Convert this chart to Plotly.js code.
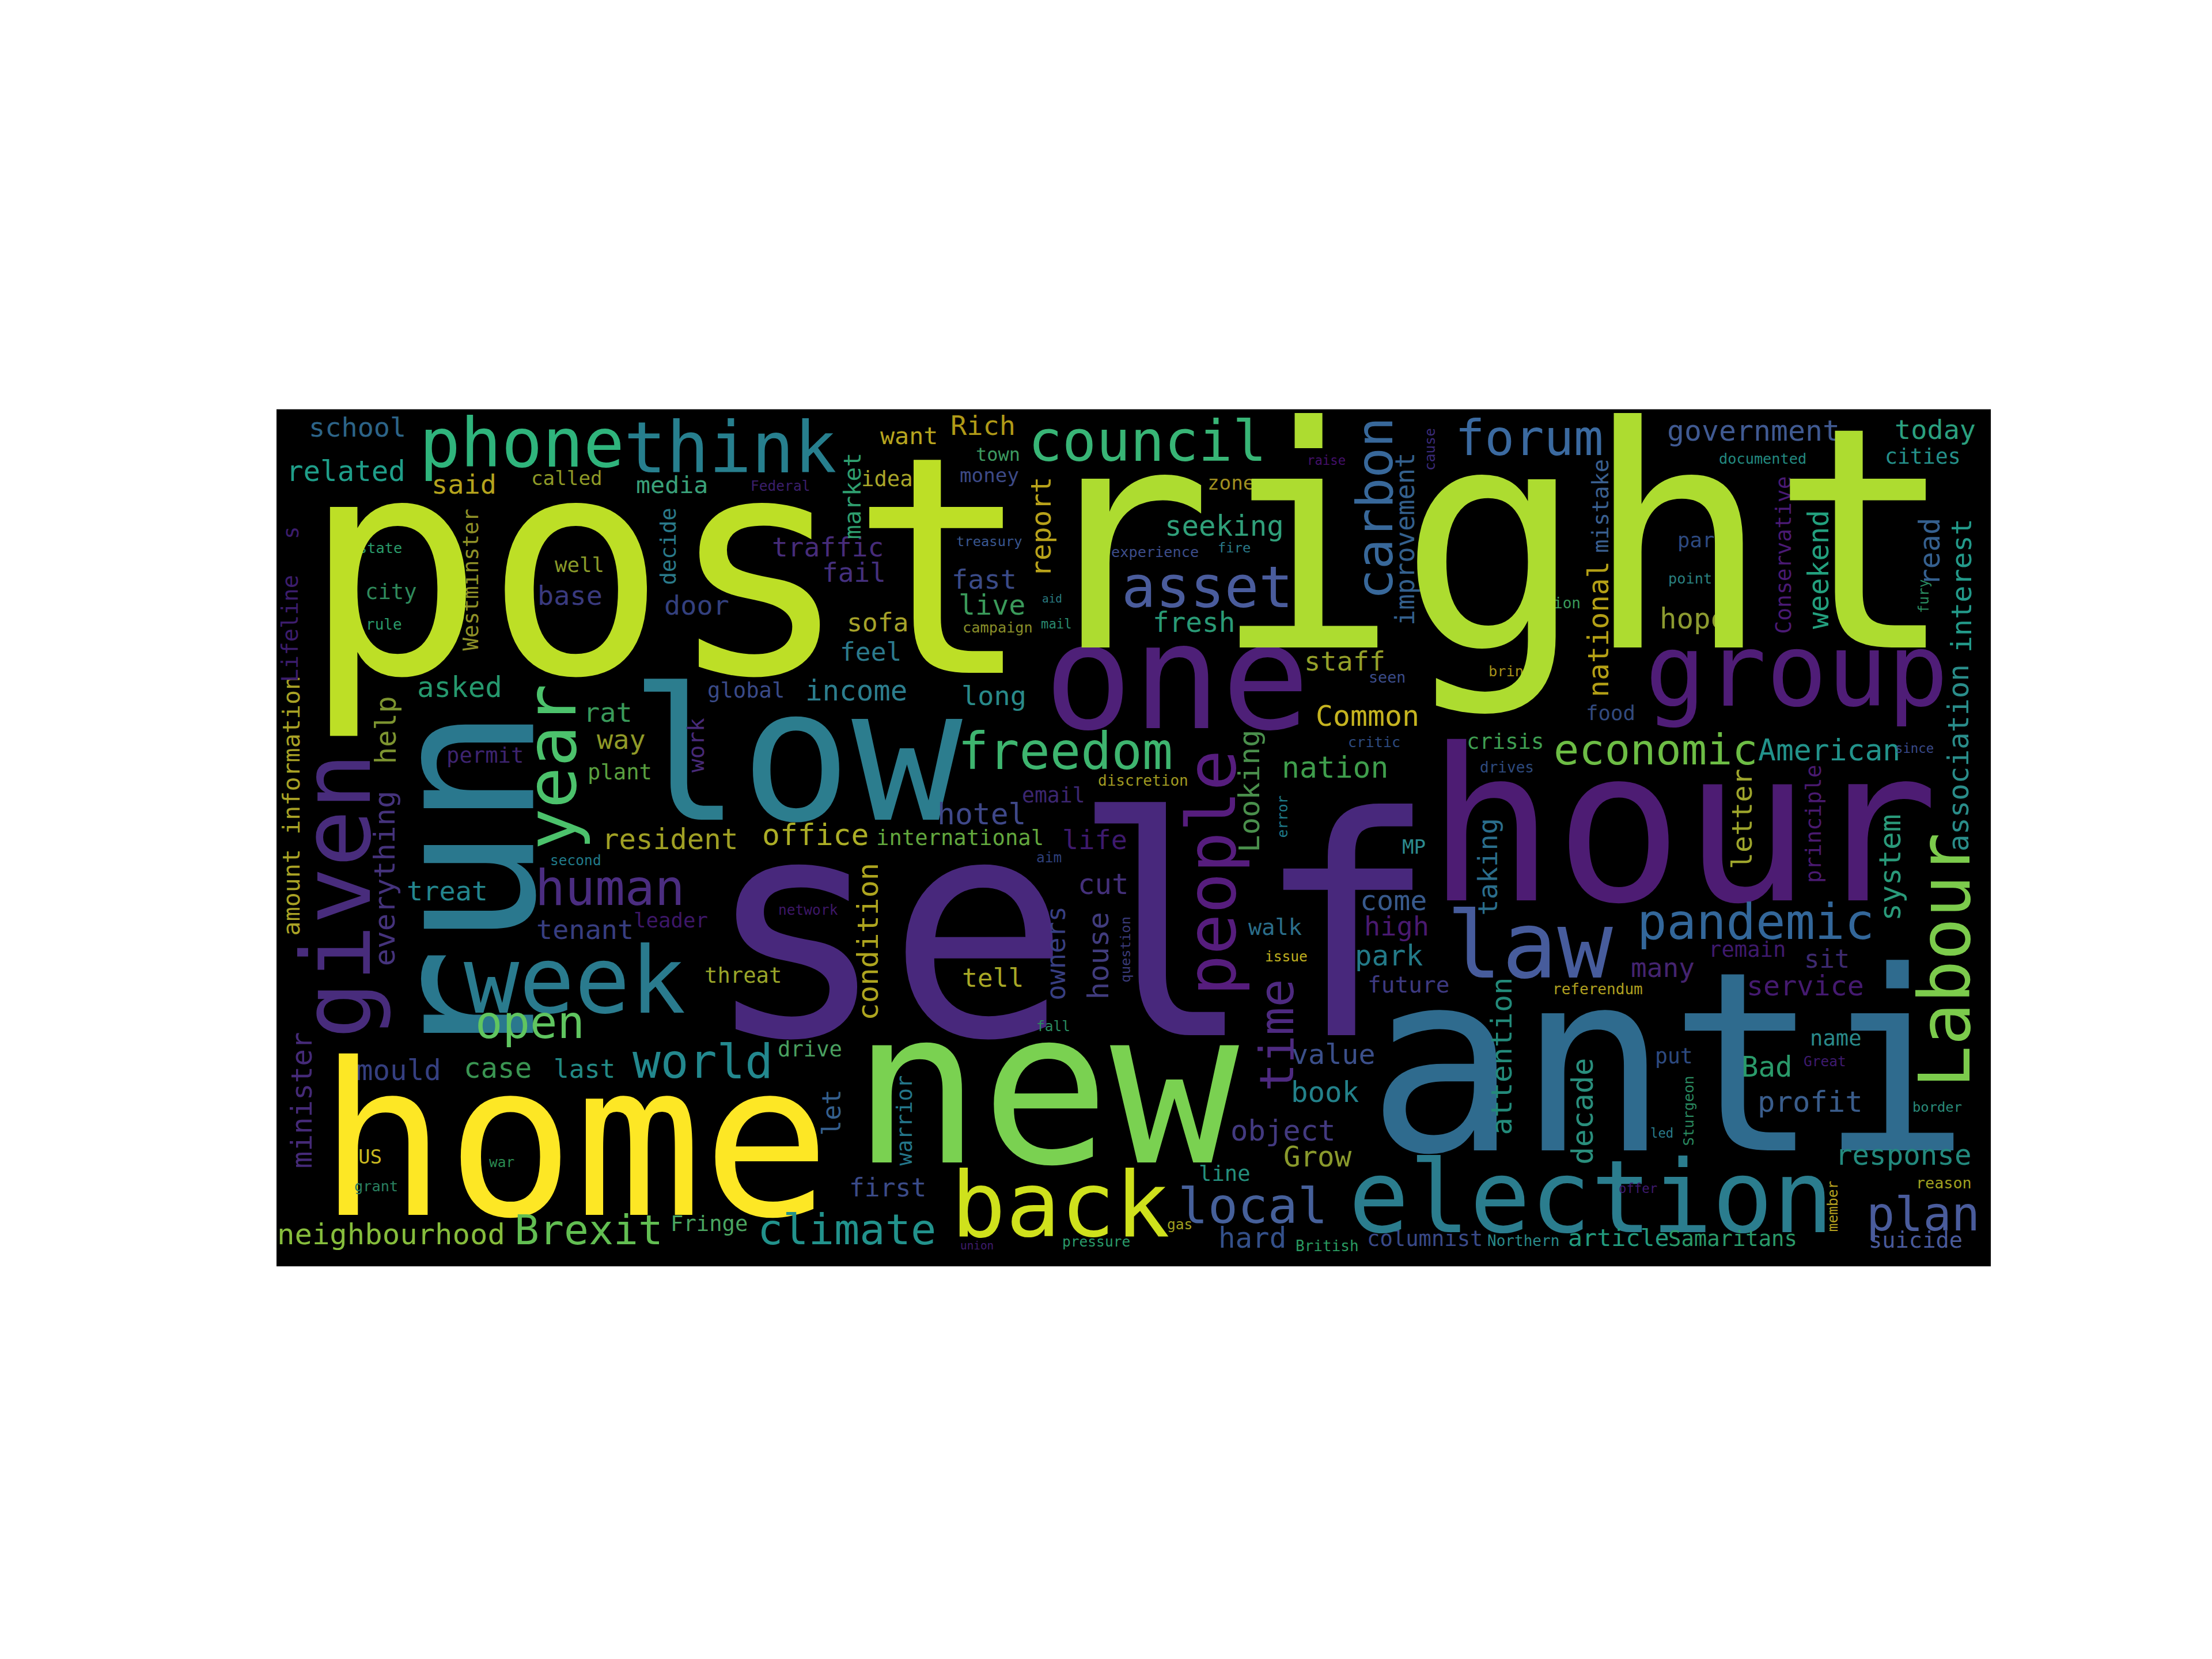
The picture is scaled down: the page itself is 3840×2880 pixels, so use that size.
<!DOCTYPE html>
<html>
<head>
<meta charset="utf-8">
<script src="https://cdn.plot.ly/plotly-3.0.1.min.js"></script>
<style>
  html, body { margin: 0; padding: 0; background: #fff; }
  #cloud { width: 3840px; height: 2880px; }
</style>
</head>
<body>
<div id="cloud"></div>
<script>
// word cloud, 400 x 200 canvas units; x/y = word centre along the text and its baseline
// (for vertical words x is the baseline, y the centre), size = font em in canvas units
const words = [
  'school','phone','think','related','said','called','media','Federal','want','Rich',
  'town','idea','money','council','raise','zone','carbon','improvement','report','seeking',
  'treasury','experience','fire','traffic','fail','fast','live','asset','fresh','aid',
  'mail','campaign','sofa','feel','staff','seen','long','forum','government','documented',
  'today','cities','mistake','national','option','bring','part','point','hope','Conservative',
  'weekend','read','fury','interest','group','association','hour','anti','self','run',
  'low','one','given','year','help','permit','rat','way','plant','work',
  'amount information','Lifeline','everything','minister','treat','second','human','leader','tenant','network',
  'week','threat','open','world','drive','mould','case','last','home','US',
  'war','grant','let','neighbourhood','Brexit','Fringe','climate','first','warrior','new',
  'back','gas','pressure','union','line','local','hard','British','columnist','time',
  'value','book','object','Grow','people','Looking','freedom','Common','critic','nation',
  'discretion','email','hotel','international','office','resident','life','condition','aim','cut',
  'owners','house','question','tell','walk','issue','fall','come','high','park',
  'future','MP','error','taking','attention','crisis','food','drives','economic','American',
  'since','letter','principle','system','Labour','pandemic','law','remain','sit','many',
  'service','referendum','put','decade','profit','Bad','name','Great','Sturgeon','led',
  'border','response','reason','election','offer','member','plan','Samaritans','article','Northern',
  'suicide','state','city','rule','well','base','Westminster','decide','door','asked',
  'global','income','market','cause','post','right','s'
];
const wordX = [
  18.9,57.2,105.9,16.2,43.7,67.8,92.3,117.5,147.6,164.8,
  168.3,142.5,166.3,203.2,245.0,222.7,260.4,265.4,180.7,221.2,
  166.3,205.0,223.4,128.6,134.8,165.1,166.9,217.2,214.1,181.0,
  182.0,168.3,140.3,138.6,249.3,259.1,167.4,292.4,344.6,346.8,
  387.0,384.2,310.7,310.7,298.0,287.9,332.7,329.9,330.6,353.4,
  362.0,388.1,385.5,395.4,354.7,394.8,328.2,324.9,185.3,59.9,
  121.4,210.1,21.8,69.8,27.8,48.6,77.4,80.4,80.1,99.6,
  5.3,5.0,27.5,8.3,39.9,69.8,77.8,92.0,72.0,124.1,
  69.5,108.9,59.2,99.4,124.4,28.5,51.6,71.8,69.5,21.8,
  52.6,23.3,131.7,26.8,72.8,100.9,133.0,142.6,148.2,179.7,
  182.9,210.8,191.3,163.5,221.2,227.8,227.7,245.2,268.0,237.3,
  246.7,244.6,234.9,242.9,223.7,229.3,184.1,254.6,256.1,247.0,
  202.2,181.3,164.6,159.5,125.7,91.8,190.9,140.3,180.3,192.9,
  184.0,194.2,199.2,167.1,233.0,235.6,181.3,260.6,261.4,259.6,
  264.1,265.4,235.9,284.9,288.2,286.7,311.3,287.1,321.8,362.3,
  382.2,344.1,360.3,378.9,395.1,345.1,292.5,343.1,361.7,323.5,
  356.7,308.3,326.1,307.1,357.8,347.8,363.8,361.3,330.6,323.3,
  387.5,379.6,389.1,306.7,317.7,364.3,384.2,339.8,313.2,290.9,
  382.4,24.2,26.8,25.0,70.7,68.5,47.0,93.0,98.1,42.7,
  109.5,135.3,136.3,270.3,91.2,283.5,5.0
];
const wordY = [
  6.4,13.4,14.7,16.7,19.7,17.7,19.6,19.0,8.1,6.0,
  12.0,17.9,17.0,12.0,12.9,18.7,23.2,30.2,27.4,29.5,
  31.9,34.5,33.5,34.4,40.3,41.8,47.9,46.1,51.9,45.1,
  51.1,52.1,51.9,58.7,60.9,63.7,69.0,10.7,7.3,12.7,
  6.9,12.7,22.6,51.4,46.5,62.3,32.2,40.7,51.2,34.0,
  37.4,33.2,43.6,41.2,69.2,81.4,114.6,172.9,146.1,111.5,
  95.8,74.3,113.6,83.5,74.9,82.4,72.9,79.2,86.4,78.4,
  92.6,51.2,109.5,161.3,114.6,106.4,115.7,120.9,123.6,117.9,
  140.9,133.8,146.7,156.0,151.0,156.6,156.0,156.0,187.9,176.0,
  176.8,182.5,164.1,194.9,194.9,191.7,194.9,183.7,165.9,175.8,
  193.0,191.4,195.4,196.1,180.1,189.9,195.7,196.4,195.3,146.1,
  152.7,161.7,170.7,176.7,108.2,89.1,84.0,73.9,78.9,86.0,
  87.8,91.8,96.8,101.7,101.7,102.6,102.6,124.2,105.7,113.1,
  126.9,127.5,126.0,134.8,122.7,128.9,145.1,116.9,122.7,129.8,
  136.1,103.7,95.1,106.8,151.0,79.2,72.5,84.8,82.9,81.9,
  80.2,95.6,96.8,107.0,128.7,123.6,132.6,127.7,130.3,132.5,
  136.8,136.5,152.7,163.9,163.9,155.7,148.5,153.3,163.7,169.9,
  163.9,176.3,181.8,192.0,182.8,185.9,191.6,195.3,195.3,195.3,
  195.7,33.6,44.3,51.4,38.0,45.6,39.8,32.0,47.9,67.1,
  67.3,68.0,20.3,9.4,61.5,55.5,28.8
];
const wordSize = [
  6.3,15.9,16.5,6.6,6.3,4.6,5.6,3.3,5.6,6.3,
  4.3,5.0,4.6,13.2,3.0,4.6,11.8,6.1,6.5,6.6,
  3.2,3.4,3.2,6.2,6.2,6.3,6.5,13.3,6.4,2.6,
  3.0,3.4,6.0,6.0,6.3,3.6,6.3,11.5,6.7,3.4,
  6.3,4.9,5.2,6.6,3.5,3.4,4.8,3.4,6.6,5.1,
  6.6,6.6,3.3,6.5,23.5,6.6,49.6,58.5,71.1,46.7,
  43.0,34.4,22.2,16.1,6.6,5.0,6.3,6.3,5.0,5.3,
  5.6,5.2,6.8,6.6,6.3,3.3,11.6,4.8,6.3,3.3,
  21.5,5.0,10.6,10.9,5.0,6.6,6.6,6.0,49.6,4.6,
  3.3,3.4,6.0,6.8,9.6,5.0,9.9,6.0,5.0,50.0,
  21.2,3.3,3.3,2.6,5.0,11.6,6.6,3.5,5.0,10.9,
  6.5,6.6,6.8,6.6,15.9,6.8,11.9,6.7,3.4,6.9,
  3.5,4.9,6.9,5.0,6.9,6.6,6.3,6.8,3.3,6.6,
  6.1,6.8,3.2,6.0,5.2,3.3,3.3,6.5,6.3,6.6,
  5.3,4.6,3.3,6.3,6.8,5.0,4.8,3.5,9.9,6.9,
  3.0,6.5,5.1,6.9,16.5,11.5,21.5,5.0,5.9,6.2,
  6.5,3.5,4.9,6.9,6.8,6.6,5.0,3.3,3.4,3.0,
  3.2,6.6,3.6,23.5,3.0,3.3,11.0,5.0,5.6,3.5,
  5.2,3.4,5.0,3.5,4.8,6.3,5.0,5.0,6.3,6.6,
  5.0,6.6,5.6,3.3,70.8,72.0,5.0
];
// 1 = rotated, reads bottom to top
const wordVertical = [
  0,0,0,0,0,0,0,0,0,0,
  0,0,0,0,0,0,1,1,1,0,
  0,0,0,0,0,0,0,0,0,0,
  0,0,0,0,0,0,0,0,0,0,
  0,0,1,1,0,0,0,0,0,1,
  1,1,1,1,0,1,0,0,0,1,
  0,0,1,1,1,0,0,0,0,1,
  1,1,1,1,0,0,0,0,0,0,
  0,0,0,0,0,0,0,0,0,0,
  0,0,1,0,0,0,0,0,1,0,
  0,0,0,0,0,0,0,0,0,1,
  0,0,0,0,1,1,0,0,0,0,
  0,0,0,0,0,0,0,1,0,0,
  1,1,1,0,0,0,0,0,0,0,
  0,0,1,1,1,0,0,0,0,0,
  0,1,1,1,1,0,0,0,0,0,
  0,0,0,1,0,0,0,0,1,0,
  0,0,0,0,0,1,0,0,0,0,
  0,0,0,0,0,0,1,1,0,0,
  0,0,1,1,0,0,1
];
const wordColor = [
  '#2d6488','#2fb47c','#277f8e','#1f9e89','#b5a31d','#8f9a27','#3aa17a','#3b1f6b','#b7a51f','#b09a17',
  '#3d9a60','#a9a629','#3d4a87','#38b576','#44106b','#a08f20','#38689a','#34608d','#b8a21a','#30a07a',
  '#3a5790','#3d4d8a','#2a7a8a','#472c7a','#45307e','#3b4b87','#3a9a5a','#4a5c9c','#2a9a76','#2a7a80',
  '#2a8a70','#8a8f2a','#a6a22a','#2c7a8c','#95a02a','#3b4c8a','#2a8a8a','#3b6aa0','#405a92','#238a80',
  '#2ba07f','#25908a','#3a5f8f','#b4a016','#3a9a5a','#a5901a','#2e4a80','#2a8080','#8c9a30','#4a1a74',
  '#23a07e','#35608f','#2a8a60','#239a8a','#4f1d77','#2a8d8a','#4d1c73','#2f6b8e','#48287c','#2a788e',
  '#2c7d8e','#4e2078','#482c7c','#4cc26c','#7d9430','#3e2470','#3a9a5a','#909a28','#5aa040','#482a78',
  '#a9a226','#3c1d6c','#45337c','#452a78','#24868e','#207a8a','#4b2d80','#3d1768','#383e80','#3d1767',
  '#2a7b8e','#9aa52a','#60c560','#23888e','#4aa060','#353f80','#3a9552','#238a86','#fde725','#c8b820',
  '#2a8a50','#2a8060','#355f8d','#86bd3c','#62be52','#4aa560','#22928c','#3b4b88','#24768a','#7ad151',
  '#cfe11c','#a0a020','#2a9a6a','#3e1c6a','#25907e','#46609a','#34508a','#2a9a60','#3a4a88','#4e2a80',
  '#3b4f8a','#23818a','#433a80','#8a9a2c','#561d7d','#4a8f4c','#3eb56f','#c6b420','#2e4a7e','#3f9e4c',
  '#a09a22','#3c2670','#3f4889','#63a83e','#acae26','#a0a024','#3e1a6e','#aea51f','#2e3f7a','#44307a',
  '#383f82','#413c7e','#3a3a78','#a8a826','#2b6e8a','#c0b020','#2a8a60','#385a8c','#4a1a70','#237a88',
  '#3e3a80','#2c8a8e','#1f7a8a','#2b6e8c','#238a7a','#3f9f52','#334a7e','#2e4a7e','#6dbd45','#22938b',
  '#3a4a8a','#9ea52c','#4a1a70','#2a9a7a','#7ccb4c','#33679a','#475c9c','#3f1a6e','#3e2a70','#452470',
  '#451a70','#b0a020','#2e4a80','#2a8f7d','#3a5d8c','#2a9a6a','#2a8a8a','#3e1a6e','#2a8a60','#2a7a8a',
  '#2a8a7a','#238a7e','#a0a020','#2b7d8e','#3e1a6e','#b5a020','#4a5c9c','#2a9a6a','#239a7e','#2a8a8a',
  '#4a5a9a','#2a9a6a','#2f8a5c','#2a9a6a','#8a9a2a','#3a3a7e','#8f9028','#2a7a8a','#34407e','#26996e',
  '#3a4a88','#2c7e8e','#2f9e6f','#3a2a78','#bddf26','#addc30','#3c1d6c'
];

const figW = 3840, figH = 2880;
const domX = [0.125, 0.9];
const domY = [0.2367, 0.7533];
const pxPerUnit = figW * (domX[1] - domX[0]) / 400;
// text box centre sits this far above the baseline (DejaVu Sans Mono ascent/descent)
const boxOffset = 0.346;

const annotations = words.map(function(w, i) {
  let em = wordSize[i];
  let vert = wordVertical[i] === 1;
  let off = boxOffset * em;
  return {
    text: w,
    xref: 'x', yref: 'y',
    x: vert ? wordX[i] - off : wordX[i],
    y: vert ? wordY[i] : wordY[i] - off,
    xanchor: 'center', yanchor: 'middle',
    textangle: vert ? -90 : 0,
    showarrow: false,
    borderpad: 0,
    font: {family: 'DejaVu Sans Mono', size: em * pxPerUnit, color: wordColor[i]}
  };
});

let trace1 = {
  x: [0, 400], y: [0, 200],
  mode: 'markers', type: 'scatter',
  marker: {opacity: 0}, hoverinfo: 'skip', showlegend: false
};

let layout = {
  width: figW, height: figH,
  margin: {l: 0, r: 0, t: 0, b: 0},
  paper_bgcolor: '#ffffff',
  plot_bgcolor: '#000000',
  showlegend: false,
  xaxis: {domain: domX, range: [0, 400], visible: false, fixedrange: true},
  yaxis: {domain: domY, range: [200, 0], visible: false, fixedrange: true},
  annotations: annotations
};

Plotly.newPlot('cloud', [trace1], layout, {displayModeBar: false, staticPlot: true});
</script>
</body>
</html>
